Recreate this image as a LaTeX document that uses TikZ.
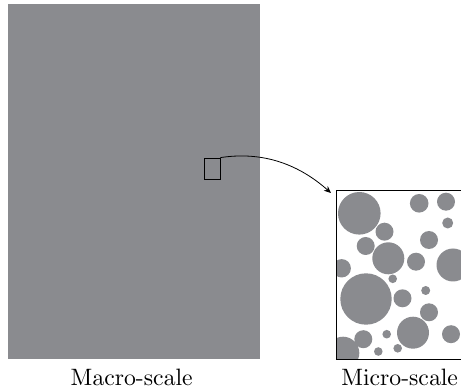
\documentclass[tikz,border=0pt]{standalone}
\usetikzlibrary{arrows.meta}
\definecolor{matgray}{RGB}{138,139,143}
\font\lblfont=cmr10 at 23.7pt
\begin{document}
\begin{tikzpicture}[x=1pt,y=-1pt,
  frame/.style={draw=black,line width=0.8pt},
  grain/.style={fill=matgray},
  lbl/.style={font=\lblfont,inner sep=0pt,anchor=base},
  link/.style={draw=black,line width=0.8pt,-{Stealth[length=7pt,width=6pt]}}]
\useasboundingbox (0,0) rectangle (461,390);
% macro-scale block
\fill[matgray] (8,4) rectangle (260,359);
\node[frame,minimum width=16pt,minimum height=21pt,inner sep=0pt] (win) at (212,168.5) {};
% micro-scale box
\begin{scope}
\clip (336,190) rectangle (461,359);
\foreach \x/\y/\r in {359.3/213.3/21.3, 419.2/203.3/9.3, 446/201.7/9, 447.7/223/5.5,
  384.5/231.7/9, 429/240/9, 365.7/246/9, 388.3/258.3/16, 416/261.7/9, 453/265/16.5,
  341.7/268.3/9.2, 392.7/278.8/4.3, 366/299/25.7, 425.7/290.5/4.5, 402.5/298.3/9,
  429/312.3/9, 413/332.7/16, 451/334.2/9, 363.3/339.2/9, 386.7/334.2/4.3,
  343/353/16.3, 378.3/351.5/4.3, 397.7/348.3/4.3}
  \fill[grain] (\x,\y) circle (\r);
\end{scope}
\draw[line width=0.9pt] (470,190) -- (336,190) -- (336,359) -- (470,359);
\coordinate (micro) at (331,193);
\draw[link] (win.north east) .. controls (270,150) and (305,170) .. (micro);
% labels
\node[lbl] (macrolbl) at (131.7,385) {Macro-scale};
\node[lbl] (microlbl) at (399.7,385) {Micro-scale};
\end{tikzpicture}
\end{document}
